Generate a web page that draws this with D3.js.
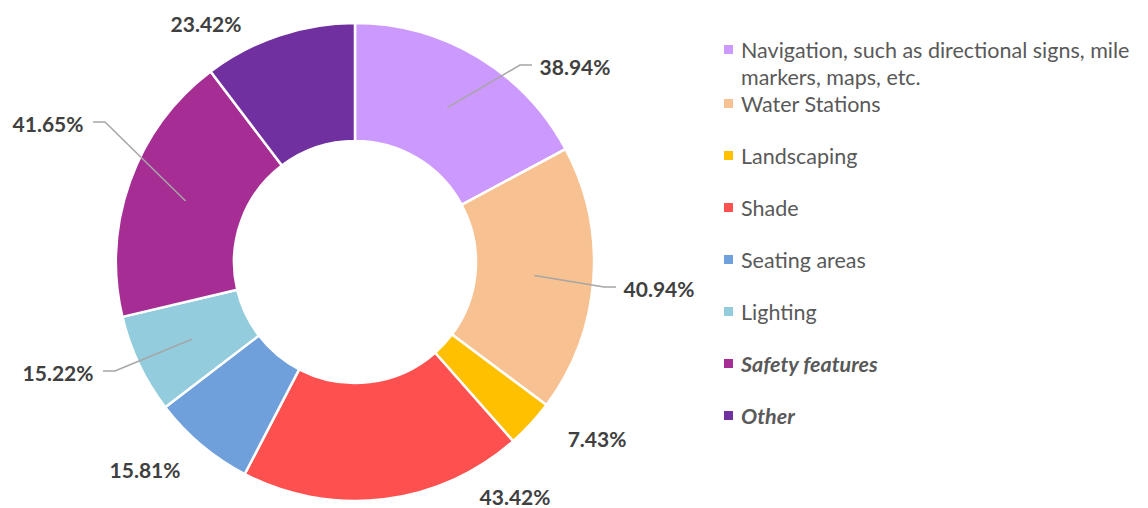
<!DOCTYPE html>
<html><head><meta charset="utf-8">
<script src="https://cdn.jsdelivr.net/npm/d3@7"></script>
<style>body{margin:0;background:#fff;} svg{display:block;}</style>
</head><body>
<svg id="chart" width="1148" height="508"></svg>
<script>
const categories = ["Navigation, such as directional signs, mile markers, maps, etc.","Water Stations","Landscaping","Shade","Seating areas","Lighting","Safety features","Other"];
const values = [38.94, 40.94, 7.43, 43.42, 15.81, 15.22, 41.65, 23.42];
const colors = ["#CC99FF","#F8C192","#FFC000","#FF5050","#6FA0DC","#93CDDD","#A52D93","#7030A0"];
const legendLines = [["Navigation, such as directional signs, mile","markers, maps, etc."],["Water Stations"],["Landscaping"],["Shade"],["Seating areas"],["Lighting"],["Safety features"],["Other"]];
const legendEmph = [false,false,false,false,false,false,true,true];
// label layout (pixel anchor of label center) and whether a leader line is drawn
const labelPos = [[575,66],[659,288],[597,438],[515,496],[145,469],[58,372],[48,123],[206,23]];
const labelLeader = [true,true,false,false,false,true,true,false];

const svg = d3.select("#chart");
const cx = 355, cy = 262, rOuter = 239, rInner = 121;
const g = svg.append("g").attr("transform",`translate(${cx},${cy})`);
const pie = d3.pie().sort(null).value(d=>d);
const arcs = pie(values);
const arc = d3.arc().innerRadius(rInner).outerRadius(rOuter);
g.selectAll("path.slice").data(arcs).join("path")
  .attr("class","slice").attr("d",arc)
  .attr("fill",(d,i)=>colors[i]).attr("stroke","#fff").attr("stroke-width",2.5);

// leader lines
arcs.forEach((d,i)=>{
  if(!labelLeader[i]) return;
  const c = arc.centroid(d);
  const sx = cx + c[0], sy = cy + c[1];
  const [lx, ly] = labelPos[i];
  const right = lx > cx;
  const ex = right ? lx - 43 : lx + 45;
  const kx = right ? ex - 12 : ex + 12;
  svg.append("polyline")
    .attr("points",`${sx},${sy} ${kx},${ly-1} ${ex},${ly-1}`)
    .attr("fill","none").attr("stroke","#A6A6A6").attr("stroke-width",1.5);
});

// labels
svg.selectAll("text.lbl").data(values).join("text")
  .attr("class","lbl")
  .attr("x",(d,i)=>labelPos[i][0]).attr("y",(d,i)=>labelPos[i][1])
  .attr("text-anchor","middle").attr("dominant-baseline","central")
  .attr("font-family","Lato, 'Open Sans', sans-serif").attr("font-weight","bold")
  .attr("font-size",21).attr("fill","#404040")
  .text(d=>d.toFixed(2)+"%");

// legend
const legY = [50,104,156,208,260,312,364,416];
const lg = svg.append("g");
categories.forEach((c,i)=>{
  const y = legY[i];
  lg.append("rect").attr("x",724).attr("y",y-5).attr("width",9).attr("height",9).attr("fill",colors[i]);
  legendLines[i].forEach((t,j)=>{
    lg.append("text").attr("x",741).attr("y",y + j*27)
      .attr("dominant-baseline","central")
      .attr("font-family","Lato, 'Open Sans', sans-serif")
      .attr("font-size",21.5).attr("fill","#595959")
      .attr("font-weight",legendEmph[i]?"bold":"normal")
      .attr("font-style",legendEmph[i]?"italic":"normal")
      .text(t);
  });
});
</script>
</body></html>
